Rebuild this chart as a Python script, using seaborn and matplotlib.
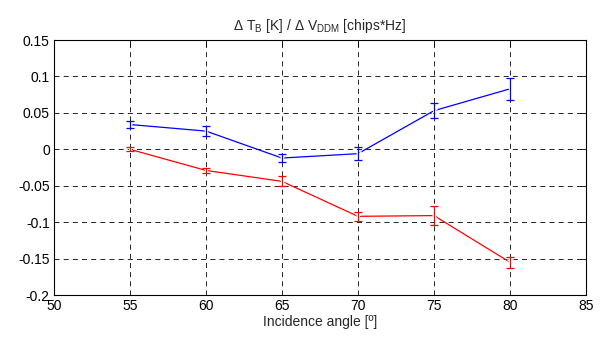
import pandas as pd
import seaborn as sns
import matplotlib
matplotlib.use("Agg")
import matplotlib.pyplot as plt

# values
angles = [55, 60, 65, 70, 75, 80]
blue_vals = [0.034, 0.025, -0.012, -0.006, 0.053, 0.083]
blue_err = [0.005, 0.007, 0.006, 0.0087, 0.010, 0.015]
red_vals = [0.0, -0.029, -0.044, -0.092, -0.091, -0.155]
red_err = [0.003, 0.003, 0.007, 0.0065, 0.0128, 0.0073]

x_ticks = [50, 55, 60, 65, 70, 75, 80, 85]
y_ticks = [0.15, 0.1, 0.05, 0, -0.05, -0.1, -0.15, -0.2]
y_labels = ["0.15", "0.1", "0.05", "0", "-0.05", "-0.1", "-0.15", "-0.2"]

df = pd.DataFrame({
    "angle": angles * 2,
    "value": blue_vals + red_vals,
    "series": ["blue"] * len(angles) + ["red"] * len(angles),
})

sns.set_style("white")
plt.rcParams["font.family"] = ["Liberation Sans", "DejaVu Sans"]
plt.rcParams["mathtext.fontset"] = "custom"
plt.rcParams["mathtext.rm"] = "Liberation Sans"
plt.rcParams["mathtext.it"] = "Liberation Sans"

fig = plt.figure(figsize=(6.1, 3.42), dpi=100)
ax = fig.add_axes([0.0885, 0.1374, 0.8722, 0.7456])

sns.lineplot(data=df, x="angle", y="value", hue="series",
             palette={"blue": "#0000ff", "red": "#ff0000"},
             marker="x", markersize=4, markeredgewidth=1.0,
             linewidth=0.9, legend=False, ax=ax)

ax.errorbar(angles, blue_vals, yerr=blue_err, fmt="none", ecolor="#0000ff",
            elinewidth=0.9, capsize=3, capthick=0.9)
ax.errorbar(angles, red_vals, yerr=red_err, fmt="none", ecolor="#ff0000",
            elinewidth=0.9, capsize=3, capthick=0.9)

ax.set_xlim(50, 85)
ax.set_ylim(-0.2, 0.15)
ax.set_xticks(x_ticks)
ax.set_yticks(y_ticks)
ax.set_yticklabels(y_labels)
ax.grid(True, color="black", linestyle=(0, (6, 5)), linewidth=0.6)
ax.tick_params(direction="in", length=4, width=0.6, labelsize=10,
               top=True, right=True, colors="black", pad=3)
for s in ax.spines.values():
    s.set_color("black")
    s.set_linewidth(0.8)

ax.set_xlabel("Incidence angle [º]", fontsize=10, labelpad=1)
ax.set_ylabel("")
ax.set_title(r"$\Delta$ T$_\mathrm{B}$ [K] / $\Delta$ V$_\mathrm{DDM}$ [chips*Hz]",
             fontsize=10, pad=7)

fig.savefig("out.png", dpi=100)
